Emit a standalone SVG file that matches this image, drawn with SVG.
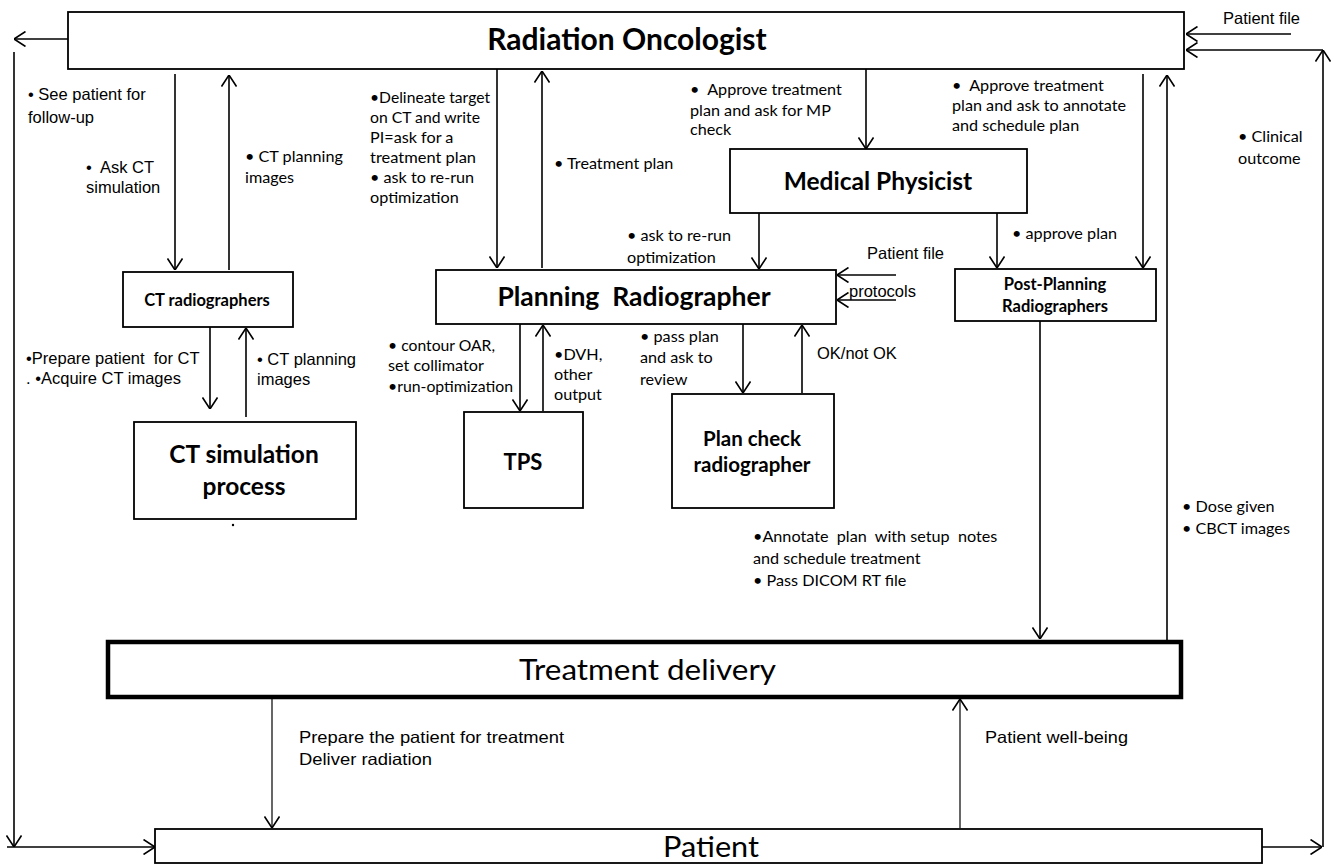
<svg xmlns="http://www.w3.org/2000/svg" width="1334" height="864" viewBox="0 0 1334 864">
<defs>
<marker id="ah" viewBox="0 0 12 16" refX="12" refY="8" markerWidth="12" markerHeight="16" markerUnits="userSpaceOnUse" orient="auto">
<path d="M0.5,0.5 L12,8 L0.5,15.5" fill="none" stroke="#000" stroke-width="1.6"/>
</marker>
<style>
.box{fill:#fff;stroke:#000;stroke-width:1.8}
.thick{fill:#fff;stroke:#000;stroke-width:4.5}
.ln{fill:none;stroke:#000;stroke-width:1.6}
.lnt{fill:none;stroke:#000;stroke-width:1.2}
.arr{marker-end:url(#ah)}
.c{font-family:Lato,"Liberation Sans",sans-serif;font-size:16.2px;fill:#000}
.a{font-family:"Liberation Sans",Arial,sans-serif;font-size:16.5px;fill:#000}
.t{font-family:Lato,"Liberation Sans",sans-serif;font-weight:bold;fill:#000;text-anchor:middle}
</style>
</defs>
<rect width="1334" height="864" fill="#fff"/>

<g id="connectors">
<line class="ln arr" x1="68" y1="39" x2="14" y2="39"/>
<line class="ln arr" x1="14" y1="52" x2="14" y2="847"/>
<line class="ln arr" x1="7" y1="847" x2="155" y2="847"/>
<line class="ln arr" x1="1262" y1="847" x2="1322" y2="847"/>
<line class="ln arr" x1="1323" y1="847" x2="1323" y2="50"/>
<line class="ln arr" x1="1323" y1="50" x2="1186" y2="50"/>
<line class="ln arr" x1="1291" y1="34" x2="1186" y2="34"/>
<line class="ln arr" x1="175" y1="74" x2="175" y2="270"/>
<line class="ln arr" x1="229" y1="270" x2="229" y2="75"/>
<line class="ln arr" x1="497" y1="69" x2="497" y2="268"/>
<line class="ln arr" x1="542" y1="268" x2="542" y2="71"/>
<line class="ln arr" x1="866" y1="69" x2="866" y2="149"/>
<line class="ln arr" x1="1143" y1="74" x2="1143" y2="268"/>
<line class="ln arr" x1="1167" y1="640" x2="1167" y2="75"/>
<line class="ln arr" x1="759" y1="213" x2="759" y2="269"/>
<line class="ln arr" x1="997" y1="213" x2="997" y2="268"/>
<line class="ln arr" x1="896" y1="275" x2="837" y2="275"/>
<line class="ln arr" x1="896" y1="300" x2="837" y2="300"/>
<line class="ln arr" x1="210" y1="327" x2="210" y2="409"/>
<line class="ln arr" x1="246" y1="417" x2="246" y2="328"/>
<line class="ln arr" x1="520" y1="324" x2="520" y2="411"/>
<line class="ln arr" x1="543" y1="411" x2="543" y2="325"/>
<line class="ln arr" x1="743" y1="324" x2="743" y2="393"/>
<line class="ln arr" x1="802" y1="393" x2="802" y2="325"/>
<line class="ln arr" x1="1040" y1="321" x2="1040" y2="639"/>
<line class="lnt arr" x1="272" y1="699" x2="272" y2="828"/>
<line class="lnt arr" x1="960" y1="828" x2="960" y2="699"/>
</g>

<g id="radiation-oncologist">
<rect class="box" x="68" y="12" width="1116" height="57"/>
<text class="t" x="627" y="50" font-size="30">Radiation Oncologist</text>
</g>

<g id="medical-physicist">
<rect class="box" x="730" y="149" width="297" height="64"/>
<text class="t" x="878" y="190" font-size="24.5">Medical Physicist</text>
</g>

<g id="ct-radiographers">
<rect class="box" x="123" y="272" width="170" height="55"/>
<text class="t" x="207" y="306" font-size="16.5">CT radiographers</text>
</g>

<g id="planning-radiographer">
<rect class="box" x="436" y="270" width="400" height="54"/>
<text class="t" x="634" y="306" font-size="26.5" xml:space="preserve">Planning  Radiographer</text>
</g>

<g id="post-planning-radiographers">
<rect class="box" x="955" y="269" width="201" height="52"/>
<text class="t" x="1055" y="290" font-size="16.5">Post-Planning</text>
<text class="t" x="1055" y="312" font-size="16.5">Radiographers</text>
</g>

<g id="ct-simulation-process">
<rect class="box" x="134" y="422" width="222" height="97"/>
<text class="t" x="244" y="463" font-size="24.5">CT simulation</text>
<text class="t" x="244" y="495" font-size="24.5">process</text>
</g>

<g id="tps">
<rect class="box" x="464" y="412" width="119" height="96"/>
<text class="t" x="523" y="470" font-size="22">TPS</text>
</g>

<g id="plan-check-radiographer">
<rect class="box" x="672" y="394" width="162" height="114"/>
<text class="t" x="752" y="446" font-size="20.5">Plan check</text>
<text class="t" x="752" y="472" font-size="20.5">radiographer</text>
</g>

<g id="treatment-delivery">
<rect class="thick" x="108" y="642" width="1073" height="55"/>
<text x="519" y="680" font-family="Lato,'Liberation Sans',sans-serif" font-size="29" textLength="257" lengthAdjust="spacingAndGlyphs">Treatment delivery</text>
</g>

<g id="patient">
<rect class="box" x="155" y="829" width="1107" height="34"/>
<text x="663" y="857" font-family="Lato,'Liberation Sans',sans-serif" font-size="29" textLength="96" lengthAdjust="spacingAndGlyphs">Patient</text>
</g>

<g id="labels">
<text class="a" x="28" y="100" font-size="17.5">• See patient for</text>
<text class="a" x="28" y="123" font-size="17.5">follow-up</text>
<text class="a" x="86" y="173" font-size="17.5" xml:space="preserve">•  Ask CT</text>
<text class="a" x="86" y="193" font-size="17.5">simulation</text>
<text class="c" x="245" y="162">• CT planning</text>
<text class="c" x="245" y="183">images</text>

<text class="c" x="370" y="103" textLength="120" lengthAdjust="spacingAndGlyphs">•Delineate target</text>
<text class="c" x="370" y="123" textLength="110" lengthAdjust="spacingAndGlyphs">on CT and write</text>
<text class="c" x="370" y="143">PI=ask for a</text>
<text class="c" x="370" y="163" textLength="106" lengthAdjust="spacingAndGlyphs">treatment plan</text>
<text class="c" x="370" y="183">• ask to re-run</text>
<text class="c" x="370" y="203">optimization</text>

<text class="c" x="554" y="169">• Treatment plan</text>

<text class="c" x="690" y="95" xml:space="preserve">•  Approve treatment</text>
<text class="c" x="690" y="116">plan and ask for MP</text>
<text class="c" x="690" y="135">check</text>

<text class="c" x="952" y="91" xml:space="preserve">•  Approve treatment</text>
<text class="c" x="952" y="111">plan and ask to annotate</text>
<text class="c" x="952" y="131">and schedule plan</text>

<text class="c" x="1238" y="142">• Clinical</text>
<text class="c" x="1238" y="164">outcome</text>

<text class="a" x="1223" y="24" font-size="18">Patient file</text>

<text class="c" x="627" y="241">• ask to re-run</text>
<text class="c" x="627" y="263">optimization</text>
<text class="c" x="1012" y="239">• approve plan</text>
<text class="a" x="867" y="259" font-size="18">Patient file</text>
<text class="a" x="849" y="297" font-size="18">protocols</text>

<text class="a" x="26" y="364" xml:space="preserve">•Prepare patient  for CT</text>
<text class="a" x="26" y="384">. •Acquire CT images</text>
<text class="a" x="257" y="365" font-size="17">• CT planning</text>
<text class="a" x="257" y="385" font-size="17">images</text>

<text class="c" x="388" y="351" textLength="107" lengthAdjust="spacingAndGlyphs">• contour OAR,</text>
<text class="c" x="388" y="371">set collimator</text>
<text class="c" x="388" y="392" textLength="125" lengthAdjust="spacingAndGlyphs">•run-optimization</text>

<text class="c" x="554" y="360">•DVH,</text>
<text class="c" x="554" y="380">other</text>
<text class="c" x="554" y="400">output</text>

<text class="c" x="640" y="342">• pass plan</text>
<text class="c" x="640" y="363">and ask to</text>
<text class="c" x="640" y="385">review</text>

<text class="a" x="817" y="359" font-size="16.7">OK/not OK</text>

<text class="c" x="753" y="542" xml:space="preserve">•Annotate  plan  with setup  notes</text>
<text class="c" x="753" y="564">and schedule treatment</text>
<text class="c" x="753" y="586">• Pass DICOM RT file</text>

<text class="c" x="1182" y="512">• Dose given</text>
<text class="c" x="1182" y="534">• CBCT images</text>

<text class="a" x="299" y="743" font-size="16" textLength="265" lengthAdjust="spacingAndGlyphs">Prepare the patient for treatment</text>
<text class="a" x="299" y="765" font-size="16" textLength="133" lengthAdjust="spacingAndGlyphs">Deliver radiation</text>
<text class="a" x="985" y="743" font-size="16" textLength="143" lengthAdjust="spacingAndGlyphs">Patient well-being</text>
<circle cx="233" cy="525" r="1.2" fill="#000"/>
</g>
</svg>
